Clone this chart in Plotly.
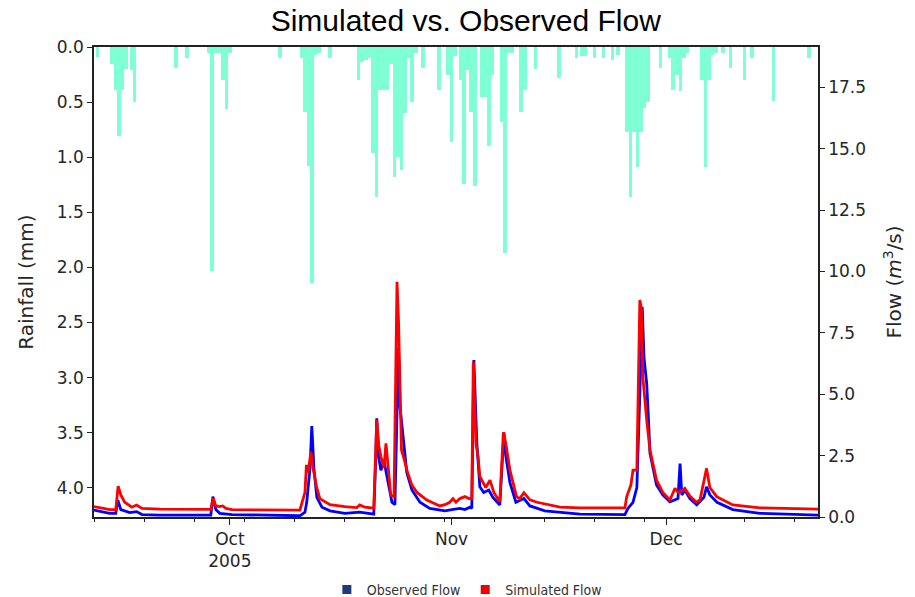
import plotly.graph_objects as go

# ---------------- data ----------------
rain_times = [
    "2005-09-12 12:00", "2005-09-14 12:00", "2005-09-15 00:00", "2005-09-15 12:00", "2005-09-16 00:00",
    "2005-09-16 12:00", "2005-09-17 06:00", "2005-09-17 16:00", "2005-09-23 12:00", "2005-09-25 00:00",
    "2005-09-28 00:00", "2005-09-28 12:00", "2005-09-29 00:00", "2005-09-29 12:00", "2005-09-30 00:00",
    "2005-09-30 12:00", "2005-10-01 00:00", "2005-10-08 00:00", "2005-10-11 00:00", "2005-10-11 12:00",
    "2005-10-12 00:00", "2005-10-12 12:00", "2005-10-13 00:00", "2005-10-13 12:00", "2005-10-15 00:00",
    "2005-10-19 00:00", "2005-10-19 12:00", "2005-10-20 00:00", "2005-10-20 12:00", "2005-10-21 00:00",
    "2005-10-21 12:00", "2005-10-22 00:00", "2005-10-22 12:00", "2005-10-23 00:00", "2005-10-23 12:00",
    "2005-10-24 00:00", "2005-10-24 12:00", "2005-10-25 00:00", "2005-10-25 12:00", "2005-10-26 00:00",
    "2005-10-26 12:00", "2005-10-27 00:00", "2005-10-28 00:00", "2005-10-30 06:00", "2005-10-31 12:00",
    "2005-11-01 00:00", "2005-11-01 12:00", "2005-11-02 06:00", "2005-11-02 18:00", "2005-11-03 06:00",
    "2005-11-03 18:00", "2005-11-04 06:00", "2005-11-05 06:00", "2005-11-05 18:00", "2005-11-06 06:00",
    "2005-11-06 18:00", "2005-11-08 00:00", "2005-11-08 12:00", "2005-11-09 00:00", "2005-11-09 12:00",
    "2005-11-10 18:00", "2005-11-11 06:00", "2005-11-12 18:00", "2005-11-16 00:00", "2005-11-18 12:00",
    "2005-11-19 06:00", "2005-11-19 18:00", "2005-11-21 00:00", "2005-11-22 06:00", "2005-11-23 12:00",
    "2005-11-24 06:00", "2005-11-25 12:00", "2005-11-26 00:00", "2005-11-26 12:00", "2005-11-27 00:00",
    "2005-11-27 12:00", "2005-11-28 00:00", "2005-11-28 12:00", "2005-11-30 06:00", "2005-12-01 12:00",
    "2005-12-02 00:00", "2005-12-02 12:00", "2005-12-03 00:00", "2005-12-03 12:00", "2005-12-04 00:00",
    "2005-12-06 00:00", "2005-12-06 12:00", "2005-12-07 00:00", "2005-12-07 12:00", "2005-12-08 00:00",
    "2005-12-09 00:00", "2005-12-10 00:00", "2005-12-12 00:00", "2005-12-13 00:00", "2005-12-16 00:00",
    "2005-12-21 00:00",
]
rain_mm = [
    0.09, 0.15, 0.39, 0.81, 0.39,
    0.20, 0.21, 0.50, 0.19, 0.10,
    0.05, 2.03, 0.05, 0.05, 0.30,
    0.56, 0.05, 0.10, 0.10, 0.59,
    1.08, 2.14, 0.07, 0.05, 0.10,
    0.30, 0.14, 0.12, 0.10, 0.96,
    1.36, 0.39, 0.39, 0.39, 0.15,
    1.18, 1.00, 1.12, 0.60, 0.10,
    0.50, 0.05, 0.19, 0.39, 0.25,
    0.86, 0.08, 0.30, 1.24, 0.21,
    0.59, 1.26, 0.45, 0.45, 0.90,
    0.25, 0.68, 1.87, 0.05, 0.05,
    0.59, 0.39, 0.20, 0.28, 0.10,
    0.08, 0.08, 0.10, 0.10, 0.12,
    0.07, 0.77, 1.36, 0.77, 1.09,
    0.77, 0.55, 0.50, 0.19, 0.10,
    0.39, 0.25, 0.40, 0.10, 0.05,
    0.30, 1.09, 0.30, 0.07, 0.05,
    0.05, 0.19, 0.30, 0.10, 0.49,
    0.10,
]

obs_times = [
    "2005-09-12 00:00", "2005-09-14 05:00", "2005-09-15 01:00", "2005-09-15 08:00", "2005-09-15 18:00",
    "2005-09-17 00:00", "2005-09-17 23:00", "2005-09-18 17:00", "2005-09-21 05:00", "2005-09-28 08:00",
    "2005-09-28 15:00", "2005-09-29 01:00", "2005-09-29 14:00", "2005-10-01 07:00", "2005-10-10 19:00",
    "2005-10-11 12:00", "2005-10-11 18:00", "2005-10-12 05:00", "2005-10-12 11:00", "2005-10-12 18:00",
    "2005-10-13 04:00", "2005-10-13 21:00", "2005-10-15 00:00", "2005-10-17 02:00", "2005-10-19 04:00",
    "2005-10-21 03:00", "2005-10-21 10:00", "2005-10-21 13:00", "2005-10-21 20:00", "2005-10-22 03:00",
    "2005-10-22 13:00", "2005-10-23 02:00", "2005-10-23 16:00", "2005-10-24 02:00", "2005-10-24 09:00",
    "2005-10-24 14:00", "2005-10-24 19:00", "2005-10-25 00:00", "2005-10-25 08:00", "2005-10-25 18:00",
    "2005-10-26 11:00", "2005-10-27 14:00", "2005-10-28 23:00", "2005-10-31 02:00", "2005-11-01 01:00",
    "2005-11-02 04:00", "2005-11-02 21:00", "2005-11-03 14:00", "2005-11-03 20:00", "2005-11-04 03:00",
    "2005-11-04 13:00", "2005-11-04 23:00", "2005-11-05 12:00", "2005-11-06 05:00", "2005-11-06 19:00",
    "2005-11-07 18:00", "2005-11-08 08:00", "2005-11-08 14:00", "2005-11-09 04:00", "2005-11-10 00:00",
    "2005-11-11 03:00", "2005-11-11 23:00", "2005-11-14 01:00", "2005-11-16 04:00", "2005-11-18 23:00",
    "2005-11-25 06:00", "2005-11-25 16:00", "2005-11-26 09:00", "2005-11-26 22:00", "2005-11-27 08:00",
    "2005-11-27 16:00", "2005-11-27 22:00", "2005-11-28 07:00", "2005-11-28 13:00", "2005-11-28 18:00",
    "2005-11-29 16:00", "2005-11-30 13:00", "2005-12-01 13:00", "2005-12-02 06:00", "2005-12-02 16:00",
    "2005-12-02 23:00", "2005-12-03 05:00", "2005-12-03 15:00", "2005-12-04 08:00", "2005-12-05 07:00",
    "2005-12-06 07:00", "2005-12-06 16:00", "2005-12-07 03:00", "2005-12-08 03:00", "2005-12-10 08:00",
    "2005-12-14 03:00", "2005-12-18 08:00", "2005-12-22 06:00",
]
obs_flow = [
    0.28, 0.15, 0.15, 0.69, 0.30,
    0.18, 0.22, 0.10, 0.08, 0.08,
    0.83, 0.30, 0.15, 0.10, 0.05,
    0.20, 0.60, 2.00, 3.70, 2.00,
    0.80, 0.40, 0.25, 0.15, 0.20,
    0.12, 2.50, 4.02, 2.40, 1.90,
    2.30, 1.50, 0.60, 0.50, 5.00,
    6.90, 4.50, 3.88, 2.80, 1.80,
    1.10, 0.60, 0.35, 0.25, 0.30,
    0.35, 0.30, 0.40, 0.35, 6.39,
    3.00, 1.23, 1.00, 1.10, 0.80,
    0.49, 3.45, 2.50, 1.40, 0.60,
    0.75, 0.45, 0.25, 0.20, 0.12,
    0.10, 0.35, 0.60, 1.20, 5.00,
    8.56, 6.50, 5.44, 4.00, 2.60,
    1.30, 0.90, 0.62, 0.72, 0.75,
    2.18, 0.90, 1.10, 0.75, 0.50,
    0.80, 1.23, 0.90, 0.60, 0.30,
    0.15, 0.10, 0.08,
]

sim_times = [
    "2005-09-12 00:00", "2005-09-14 05:00", "2005-09-15 01:00", "2005-09-15 09:00", "2005-09-15 18:00",
    "2005-09-16 07:00", "2005-09-17 07:00", "2005-09-17 23:00", "2005-09-18 17:00", "2005-09-21 05:00",
    "2005-09-28 08:00", "2005-09-28 16:00", "2005-09-29 01:00", "2005-09-29 14:00", "2005-09-30 00:00",
    "2005-09-30 11:00", "2005-10-01 07:00", "2005-10-10 19:00", "2005-10-11 12:00", "2005-10-11 17:00",
    "2005-10-11 23:00", "2005-10-12 08:00", "2005-10-12 15:00", "2005-10-13 03:00", "2005-10-13 14:00",
    "2005-10-15 00:00", "2005-10-17 02:00", "2005-10-18 18:00", "2005-10-19 04:00", "2005-10-19 21:00",
    "2005-10-21 03:00", "2005-10-21 10:00", "2005-10-21 13:00", "2005-10-21 20:00", "2005-10-22 03:00",
    "2005-10-22 13:00", "2005-10-22 20:00", "2005-10-23 02:00", "2005-10-23 12:00", "2005-10-23 23:00",
    "2005-10-24 05:00", "2005-10-24 09:00", "2005-10-24 14:00", "2005-10-24 19:00", "2005-10-25 00:00",
    "2005-10-25 08:00", "2005-10-25 18:00", "2005-10-26 11:00", "2005-10-27 04:00", "2005-10-28 13:00",
    "2005-10-30 09:00", "2005-10-31 02:00", "2005-10-31 18:00", "2005-11-01 05:00", "2005-11-01 15:00",
    "2005-11-02 04:00", "2005-11-02 21:00", "2005-11-03 10:00", "2005-11-03 20:00", "2005-11-04 01:00",
    "2005-11-04 10:00", "2005-11-04 17:00", "2005-11-04 23:00", "2005-11-05 19:00", "2005-11-06 09:00",
    "2005-11-06 22:00", "2005-11-07 18:00", "2005-11-08 06:00", "2005-11-08 14:00", "2005-11-09 04:00",
    "2005-11-10 02:00", "2005-11-10 13:00", "2005-11-11 03:00", "2005-11-11 23:00", "2005-11-12 23:00",
    "2005-11-16 04:00", "2005-11-18 23:00", "2005-11-25 06:00", "2005-11-25 12:00", "2005-11-26 02:00",
    "2005-11-26 09:00", "2005-11-26 22:00", "2005-11-27 08:00", "2005-11-27 13:00", "2005-11-27 18:00",
    "2005-11-28 07:00", "2005-11-28 18:00", "2005-11-29 16:00", "2005-11-30 13:00", "2005-12-01 13:00",
    "2005-12-02 06:00", "2005-12-02 16:00", "2005-12-03 02:00", "2005-12-03 15:00", "2005-12-04 08:00",
    "2005-12-05 06:00", "2005-12-05 18:00", "2005-12-06 16:00", "2005-12-07 03:00", "2005-12-08 02:00",
    "2005-12-10 08:00", "2005-12-14 03:00", "2005-12-18 08:00", "2005-12-22 06:00",
]
sim_flow = [
    0.42, 0.30, 0.30, 1.26, 0.90,
    0.60, 0.40, 0.49, 0.35, 0.32,
    0.31, 0.76, 0.45, 0.42, 0.45,
    0.35, 0.30, 0.28, 1.00, 2.12,
    1.80, 2.66, 2.00, 1.23, 0.75,
    0.50, 0.42, 0.38, 0.49, 0.40,
    0.36, 3.00, 3.95, 2.90, 2.46,
    2.00, 3.00, 2.20, 0.90, 0.83,
    6.00, 9.58, 8.00, 4.50, 2.73,
    2.40, 1.91, 1.30, 1.00, 0.69,
    0.45, 0.50, 0.60, 0.75, 0.60,
    0.75, 0.83, 0.75, 0.75, 6.32,
    3.00, 2.46, 1.65, 1.20, 1.50,
    1.00, 0.62, 3.45, 3.00, 1.91,
    0.83, 0.75, 0.99, 0.70, 0.60,
    0.40, 0.37, 0.37, 0.83, 1.30,
    1.91, 1.91, 8.84, 8.50, 5.71,
    3.95, 2.73, 1.50, 1.00, 0.69,
    1.17, 1.00, 1.03, 1.17, 0.85,
    0.60, 0.70, 1.98, 1.20, 0.83,
    0.49, 0.37, 0.33, 0.32,
]

month_ticks = ["2005-10-01", "2005-11-01", "2005-12-01"]
month_labels = ["Oct<br>2005", "Nov", "Dec"]
rain_ticks = [0.0, 0.5, 1.0, 1.5, 2.0, 2.5, 3.0, 3.5, 4.0]

# ---------------- figure ----------------
DAY_MS = 86400000
tick_font = dict(family="DejaVu Sans", size=17, color="#262626")
label_font = dict(family="DejaVu Sans", size=20, color="#262626")

fig = go.Figure()
fig.add_trace(go.Bar(
    x=rain_times, y=rain_mm, width=0.5 * DAY_MS,
    marker=dict(color="#7fffd4", line=dict(width=0)),
    yaxis="y", showlegend=False, name="Rainfall",
))
fig.add_trace(go.Scatter(
    x=obs_times, y=obs_flow, mode="lines",
    line=dict(color="#0000ff", width=2.8), yaxis="y2", showlegend=False, name="Observed Flow",
))
fig.add_trace(go.Scatter(
    x=sim_times, y=sim_flow, mode="lines",
    line=dict(color="#ff0000", width=2.8), yaxis="y2", showlegend=False, name="Simulated Flow",
))
# legend entries (square patches)
fig.add_trace(go.Scatter(
    x=[None], y=[None], mode="markers", yaxis="y2", name="Observed Flow",
    marker=dict(symbol="square", size=9, color="#1f3a78"),
))
fig.add_trace(go.Scatter(
    x=[None], y=[None], mode="markers", yaxis="y2", name="Simulated Flow",
    marker=dict(symbol="square", size=9, color="#ee0000"),
))

fig.update_layout(
    width=915, height=597,
    margin=dict(l=94, r=97, t=47, b=80, autoexpand=False),
    paper_bgcolor="white", plot_bgcolor="white",
    bargap=0,
    title=dict(
        text="Simulated vs. Observed Flow",
        font=dict(family="Liberation Sans, Arial, sans-serif", size=30, color="black"),
        x=0.509, xanchor="center", xref="container",
        y=0.966, yanchor="middle", yref="container",
    ),
    xaxis=dict(
        type="date",
        range=["2005-09-12 00:00", "2005-12-22 06:00"],
        tickmode="array", tickvals=month_ticks, ticktext=month_labels,
        ticks="outside", ticklen=6, tickwidth=1.3, tickcolor="#222",
        tickfont=tick_font,
        showline=True, linecolor="#222", linewidth=1.5, mirror=True,
        showgrid=False, zeroline=False,
        minor=dict(ticks="outside", ticklen=3.5, tickwidth=1, tickcolor="#222",
                   tick0="2005-09-19", dtick=7 * DAY_MS, showgrid=False),
    ),
    yaxis=dict(
        title=dict(text="Rainfall (mm)", font=label_font, standoff=18),
        range=[4.265, 0],
        tickmode="array", tickvals=rain_ticks, tickformat=".1f",
        ticks="outside", ticklen=5, tickwidth=1.3, tickcolor="#222",
        tickfont=tick_font,
        showline=True, linecolor="#222", linewidth=1.5,
        showgrid=False, zeroline=False,
    ),
    yaxis2=dict(
        title=dict(text="Flow (<i>m</i><sup>3</sup>/s)", font=label_font, standoff=22),
        overlaying="y", side="right",
        range=[0, 19.14], tick0=0, dtick=2.5, tickformat=".1f",
        ticks="outside", ticklen=5, tickwidth=1.3, tickcolor="#222",
        tickfont=tick_font,
        showline=True, linecolor="#222", linewidth=1.5,
        showgrid=False, zeroline=False,
    ),
    legend=dict(
        orientation="h", x=0.515, xanchor="center", xref="paper",
        y=(597 - 590) / 597, yanchor="middle", yref="container",
        font=dict(family="DejaVu Sans Condensed, Liberation Sans Narrow, DejaVu Sans", size=14, color="#333"),
        itemwidth=30, bgcolor="rgba(0,0,0,0)",
    ),
)

fig.write_html("out.html")
